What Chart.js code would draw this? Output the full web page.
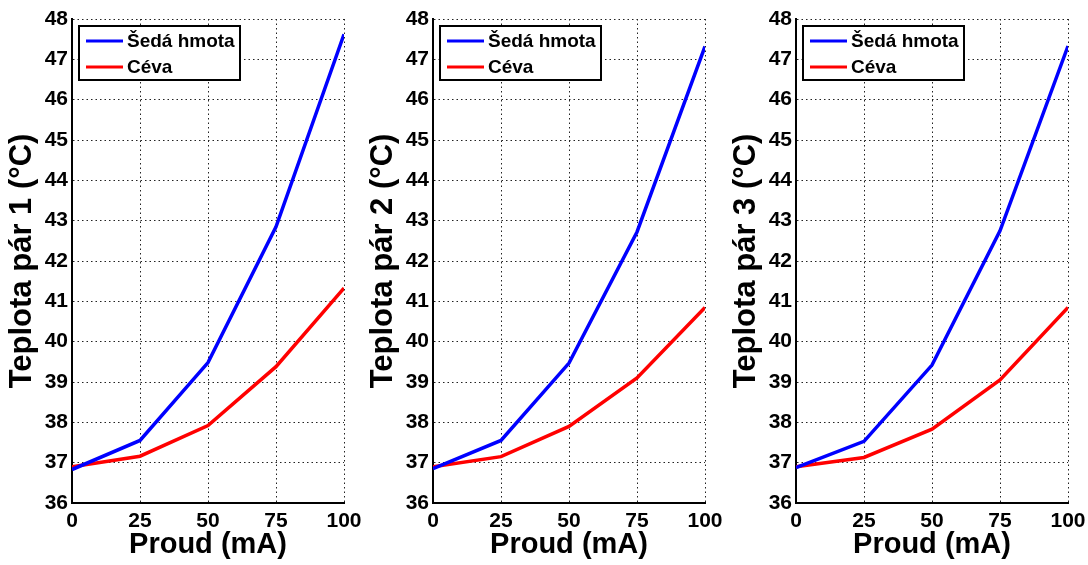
<!DOCTYPE html>
<html>
<head>
<meta charset="utf-8">
<script src="https://cdn.jsdelivr.net/npm/chart.js@4.4.0/dist/chart.umd.min.js"></script>
<style>
    html, body { margin: 0; padding: 0; background: #fff; }
    #wrap { position: relative; width: 1088px; height: 565px; overflow: hidden; }
    .plot { position: absolute; top: 0; width: 372px; height: 565px; }
</style>
</head>
<body>
<div id="wrap">
    <div class="plot" style="left:0px"><canvas id="c1" width="372" height="565"></canvas></div>
    <div class="plot" style="left:361px"><canvas id="c2" width="372" height="565"></canvas></div>
    <div class="plot" style="left:724px"><canvas id="c3" width="372" height="565"></canvas></div>
</div>
<script>
// data
const proud = [0, 25, 50, 75, 100];
const yTicks = [36, 37, 38, 39, 40, 41, 42, 43, 44, 45, 46, 47, 48];
const xTicks = [0, 25, 50, 75, 100];
const seriesNames = ['Šedá hmota', 'Céva'];
const seriesColors = ['#0000ff', '#ff0000'];

const sedaPar1 = [36.83, 37.55, 39.48, 42.85, 47.62];
const cevaPar1 = [36.90, 37.16, 37.92, 39.38, 41.33];
const sedaPar2 = [36.85, 37.55, 39.47, 42.72, 47.32];
const cevaPar2 = [36.90, 37.15, 37.90, 39.10, 40.85];
const sedaPar3 = [36.88, 37.53, 39.42, 42.75, 47.33];
const cevaPar3 = [36.90, 37.13, 37.83, 39.05, 40.85];

const yTitles = ['Teplota pár 1 (°C)', 'Teplota pár 2 (°C)', 'Teplota pár 3 (°C)'];
const xTitle = 'Proud (mA)';

const FONT = '"Liberation Sans", Arial, Helvetica, sans-serif';

// legend inside plot area, with white box and black frame (MATLAB style)
const boxLegend = {
    id: 'boxLegend',
    afterDatasetsDraw(chart) {
        const ctx = chart.ctx;
        const a = chart.chartArea;
        const x = a.left + 7, y = a.top + 7, w = 161, h = 54;
        ctx.save();
        ctx.fillStyle = '#fff';
        ctx.fillRect(x, y, w, h);
        ctx.strokeStyle = '#000';
        ctx.lineWidth = 2;
        ctx.strokeRect(x, y, w, h);
        ctx.font = 'bold 19px ' + FONT;
        ctx.textBaseline = 'middle';
        chart.data.datasets.forEach((ds, i) => {
            const ly = y + 15 + i * 26;
            ctx.strokeStyle = ds.borderColor;
            ctx.lineWidth = 3;
            ctx.beginPath();
            ctx.moveTo(x + 7, ly);
            ctx.lineTo(x + 44, ly);
            ctx.stroke();
            ctx.fillStyle = '#000';
            ctx.fillText(ds.label, x + 48, ly + 1);
        });
        ctx.restore();
    }
};

function makeChart(id, seda, ceva, yTitle) {
    return new Chart(document.getElementById(id), {
        type: 'line',
        data: {
            datasets: [seda, ceva].map((vals, i) => ({
                label: seriesNames[i],
                data: proud.map((p, k) => ({ x: p, y: vals[k] })),
                borderColor: seriesColors[i],
                backgroundColor: seriesColors[i],
                borderWidth: 3.5,
                tension: 0,
                pointRadius: 0,
                fill: false
            }))
        },
        options: {
            responsive: false,
            animation: false,
            devicePixelRatio: 1,
            layout: { padding: { top: 19, right: 28, left: 0, bottom: 0 } },
            plugins: {
                legend: { display: false },
                tooltip: { enabled: false }
            },
            scales: {
                x: {
                    type: 'linear',
                    min: 0,
                    max: 100,
                    afterBuildTicks: s => { s.ticks = xTicks.map(v => ({ value: v })); },
                    afterFit: s => { s.height = 62; },
                    ticks: {
                        color: '#000',
                        padding: 6,
                        maxRotation: 0,
                        font: { family: FONT, size: 21, weight: 'bold' }
                    },
                    grid: { color: '#222', lineWidth: 1, drawTicks: false },
                    border: { display: true, color: '#000', width: 2, dash: [1.5, 3] },
                    title: {
                        display: true,
                        text: xTitle,
                        color: '#000',
                        font: { family: FONT, size: 29, weight: 'bold' },
                        padding: { top: 0, bottom: 3 }
                    }
                },
                y: {
                    min: 36,
                    max: 48,
                    afterBuildTicks: s => { s.ticks = yTicks.map(v => ({ value: v })); },
                    afterFit: s => { s.width = 72; },
                    ticks: {
                        color: '#000',
                        padding: 4,
                        font: { family: FONT, size: 21, weight: 'bold' }
                    },
                    grid: { color: '#222', lineWidth: 1, drawTicks: false },
                    border: { display: true, color: '#000', width: 2, dash: [1.5, 3] },
                    title: {
                        display: true,
                        text: yTitle,
                        color: '#000',
                        font: { family: FONT, size: 31, weight: 'bold' },
                        padding: { top: 4, bottom: 4 }
                    }
                }
            }
        },
        plugins: [boxLegend]
    });
}

makeChart('c1', sedaPar1, cevaPar1, yTitles[0]);
makeChart('c2', sedaPar2, cevaPar2, yTitles[1]);
makeChart('c3', sedaPar3, cevaPar3, yTitles[2]);
</script>
</body>
</html>
